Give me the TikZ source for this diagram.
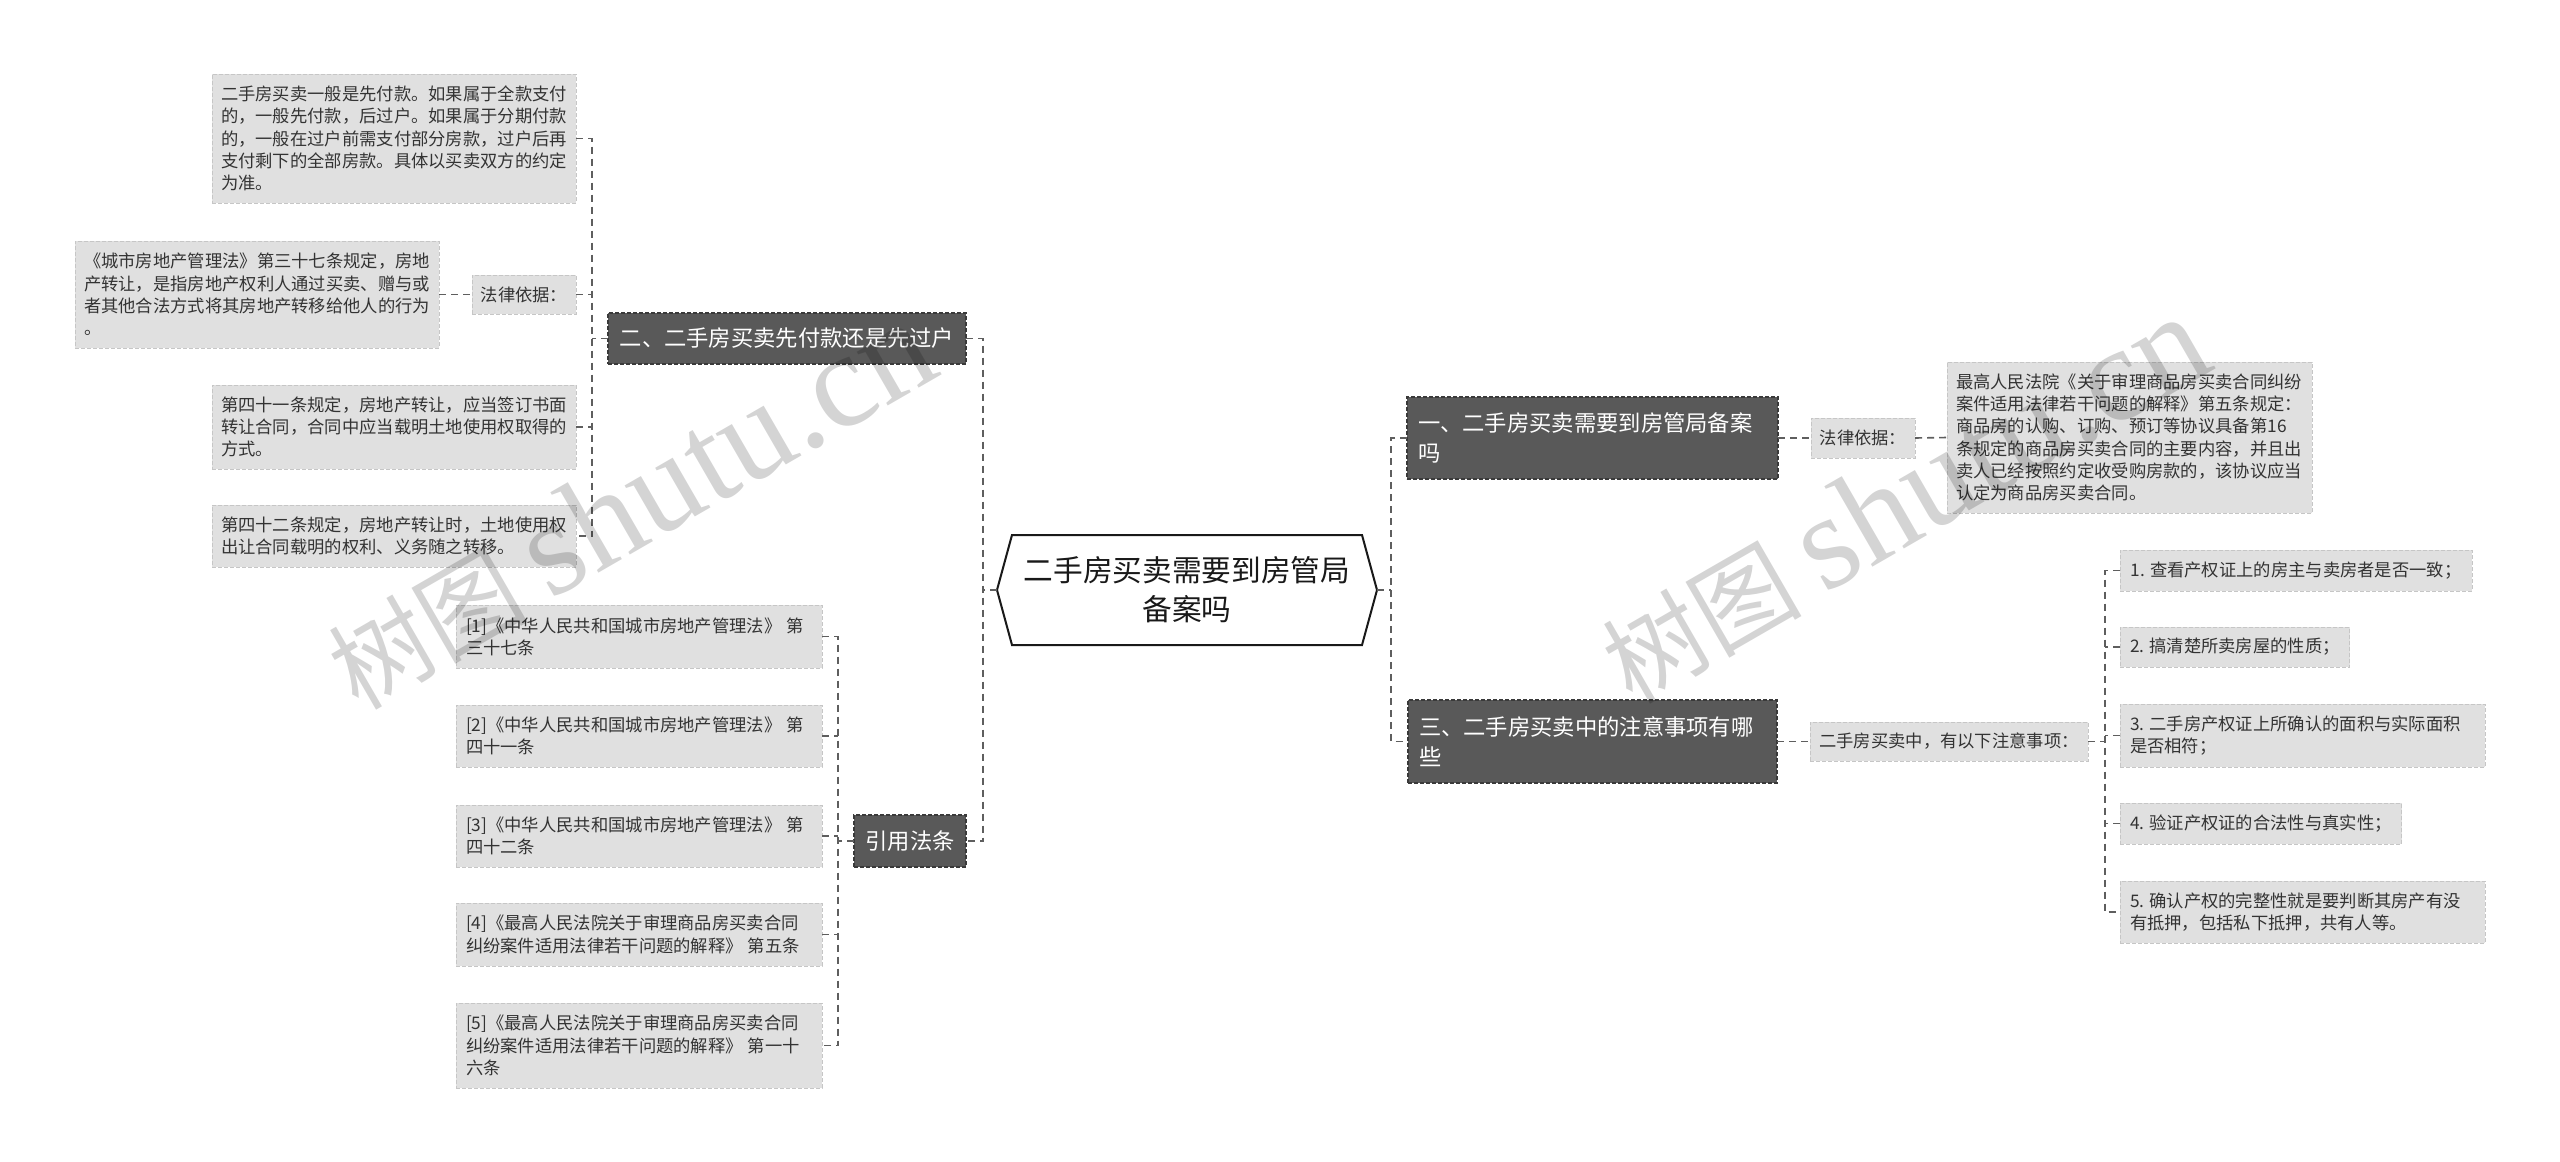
\documentclass[tikz,border=0pt]{standalone}
\usepackage{fontspec}
\setmainfont{Noto Sans CJK SC}
\newfontfamily\wmlatin{Liberation Serif}
\definecolor{lfill}{HTML}{E0E0E0}
\definecolor{ledge}{HTML}{C6C6C6}
\definecolor{dfill}{HTML}{595959}
\definecolor{dedge}{HTML}{3A3A3A}
\definecolor{ltext}{HTML}{333333}
\definecolor{lnk}{HTML}{5E5E5E}
\tikzset{
  lbox/.style={fill=lfill, draw=ledge, line width=1pt, dash pattern=on 4pt off 2pt,
    text=ltext, font=\fontsize{17.3}{22.3}\selectfont, inner xsep=9pt, inner ysep=0pt,
    align=left, anchor=north west, outer sep=0pt},
  dbox/.style={fill=dfill, draw=dedge, line width=1.2pt, dash pattern=on 4pt off 2pt,
    text=white, font=\fontsize{22.3}{30}\selectfont, inner xsep=11pt, inner ysep=0pt,
    align=left, anchor=north west, outer sep=0pt},
  rootnode/.style={font=\fontsize{29.7}{39}\selectfont, text=black!90, align=center,
    minimum width=380pt, minimum height=110pt, inner sep=0pt, outer sep=0pt},
  hexline/.style={draw=black!90, line width=2pt, fill=white, line join=miter},
  link/.style={draw=lnk, line width=1.6pt, dash pattern=on 7pt off 5pt},
  wm/.style={text=black, text opacity=0.17, inner sep=0pt, anchor=base west},
}
\begin{document}
\begin{tikzpicture}[x=1pt,y=-1pt]
\useasboundingbox (0,0) rectangle (2560,1162);
\fill[white] (0,0) rectangle (2560,1162);

% trunk x positions
\coordinate (L1) at (592,0);
\coordinate (L2) at (838,0);
\coordinate (LT) at (983,0);
\coordinate (RT) at (1391,0);
\coordinate (R2) at (2105,0);

% central node
\node[rootnode] (root) at (1187,590) {};
\draw[hexline] (root.west) -- ([xshift=15pt]root.north west) -- ([xshift=-15pt]root.north east)
  -- (root.east) -- ([xshift=-15pt]root.south east) -- ([xshift=15pt]root.south west) -- cycle;
\node[rootnode] at (root.center) {二手房买卖需要到房管局\\备案吗};

% left upper branch
\node[dbox, minimum width=358pt, minimum height=51pt, align=center, inner xsep=8pt] (n2) at (608,313) {二、二手房买卖先付款还是先过户};
\node[lbox, text width=346pt, minimum height=129pt] (a1) at (212,74) {二手房买卖一般是先付款。如果属于全款支付\\的，一般先付款，后过户。如果属于分期付款\\的，一般在过户前需支付部分房款，过户后再\\支付剩下的全部房款。具体以买卖双方的约定\\为准。};
\node[lbox, minimum width=104pt, minimum height=39pt, inner xsep=8pt] (lawL) at (472,275) {法律依据：};
\node[lbox, text width=346pt, minimum height=107pt] (a2) at (75,241) {《城市房地产管理法》第三十七条规定，房地\\产转让，是指房地产权利人通过买卖、赠与或\\者其他合法方式将其房地产转移给他人的行为\\。};
\node[lbox, text width=346pt, minimum height=84pt] (a3) at (212,385) {第四十一条规定，房地产转让，应当签订书面\\转让合同，合同中应当载明土地使用权取得的\\方式。};
\node[lbox, text width=346pt, minimum height=62pt] (a4) at (212,505) {第四十二条规定，房地产转让时，土地使用权\\出让合同载明的权利、义务随之转移。};

% citations
\node[dbox, minimum width=112pt, minimum height=52pt, align=center, inner xsep=8pt] (cite) at (854,815) {引用法条};
\node[lbox, text width=346pt, minimum height=63pt, inner xsep=10pt] (c1) at (456,605) {[1]《中华人民共和国城市房地产管理法》\kern5pt第\\三十七条};
\node[lbox, text width=346pt, minimum height=62pt, inner xsep=10pt] (c2) at (456,705) {[2]《中华人民共和国城市房地产管理法》\kern5pt第\\四十一条};
\node[lbox, text width=346pt, minimum height=62pt, inner xsep=10pt] (c3) at (456,805) {[3]《中华人民共和国城市房地产管理法》\kern5pt第\\四十二条};
\node[lbox, text width=346pt, minimum height=63pt, inner xsep=10pt] (c4) at (456,903) {[4]《最高人民法院关于审理商品房买卖合同\\纠纷案件适用法律若干问题的解释》\kern5pt第五条};
\node[lbox, text width=346pt, minimum height=85pt, inner xsep=10pt] (c5) at (456,1003) {[5]《最高人民法院关于审理商品房买卖合同\\纠纷案件适用法律若干问题的解释》\kern5pt第一十\\六条};

% right branch 1
\node[dbox, text width=349pt, minimum height=82pt] (n1) at (1407,397) {一、二手房买卖需要到房管局备案\\吗};
\node[lbox, minimum width=104pt, minimum height=40pt, inner xsep=8pt] (lawR) at (1811,418) {法律依据：};
\node[lbox, text width=347pt, minimum height=151pt] (b1) at (1947,362) {最高人民法院《关于审理商品房买卖合同纠纷\\案件适用法律若干问题的解释》第五条规定：\\商品房的认购、订购、预订等协议具备第16\\条规定的商品房买卖合同的主要内容，并且出\\卖人已经按照约定收受购房款的，该协议应当\\认定为商品房买卖合同。};

% right branch 3
\node[dbox, text width=347pt, minimum height=83pt] (n3) at (1408,700) {三、二手房买卖中的注意事项有哪\\些};
\node[lbox, minimum width=278pt, minimum height=39pt, inner xsep=8pt] (note) at (1810,722) {二手房买卖中，有以下注意事项：};
\node[lbox, minimum width=352pt, minimum height=41pt, inner xsep=10pt] (k1) at (2120,550) {1.\kern5pt查看产权证上的房主与卖房者是否一致；};
\node[lbox, minimum width=229pt, minimum height=40pt, inner xsep=10pt] (k2) at (2120,627) {2.\kern5pt搞清楚所卖房屋的性质；};
\node[lbox, text width=345pt, minimum height=63pt, inner xsep=10pt] (k3) at (2120,704) {3.\kern5pt二手房产权证上所确认的面积与实际面积\\是否相符；};
\node[lbox, minimum width=280pt, minimum height=41pt, inner xsep=10pt] (k4) at (2120,803) {4.\kern5pt验证产权证的合法性与真实性；};
\node[lbox, text width=345pt, minimum height=62pt, inner xsep=10pt] (k5) at (2120,881) {5.\kern5pt确认产权的完整性就是要判断其房产有没\\有抵押，包括私下抵押，共有人等。};

% connectors: left
\draw[link] (root.west) -- (root.west -| LT);
\draw[link] (n2.east) -- (n2.east -| LT) -- (cite.east -| LT) -- (cite.east);
\draw[link] (a1.east) -- (a1.east -| L1) -- (a4.east -| L1) -- (a4.east);
\draw[link] (lawL.east) -- (lawL.east -| L1);
\draw[link] (a3.east) -- (a3.east -| L1);
\draw[link] (n2.west) -- (n2.west -| L1);
\draw[link] (a2.east) -- (lawL.west);
\draw[link] (c1.east) -- (c1.east -| L2) -- (c5.east -| L2) -- (c5.east);
\draw[link] (c2.east) -- (c2.east -| L2);
\draw[link] (c3.east) -- (c3.east -| L2);
\draw[link] (c4.east) -- (c4.east -| L2);
\draw[link] (cite.west) -- (cite.west -| L2);

% connectors: right
\draw[link] (root.east) -- (root.east -| RT);
\draw[link] (n1.west) -- (n1.west -| RT) -- (n3.west -| RT) -- (n3.west);
\draw[link] (n1.east) -- (lawR.west);
\draw[link] (lawR.east) -- (b1.west);
\draw[link] (n3.east) -- (note.west);
\draw[link] (note.east) -- (note.east -| R2);
\draw[link] (k1.west) -- (k1.west -| R2) -- (k5.west -| R2) -- (k5.west);
\draw[link] (k2.west) -- (k2.west -| R2);
\draw[link] (k3.west) -- (k3.west -| R2);
\draw[link] (k4.west) -- (k4.west -| R2);

% watermarks
\node[wm, rotate=30, font=\fontsize{100}{100}\selectfont] (wm1) at (358,712) {树图 {\wmlatin\fontsize{135}{135}\selectfont shutu.cn}};
\node[wm, rotate=30, font=\fontsize{100}{100}\selectfont] (wm2) at (1632,706) {树图 {\wmlatin\fontsize{135}{135}\selectfont shutu.cn}};
\end{tikzpicture}
\end{document}
